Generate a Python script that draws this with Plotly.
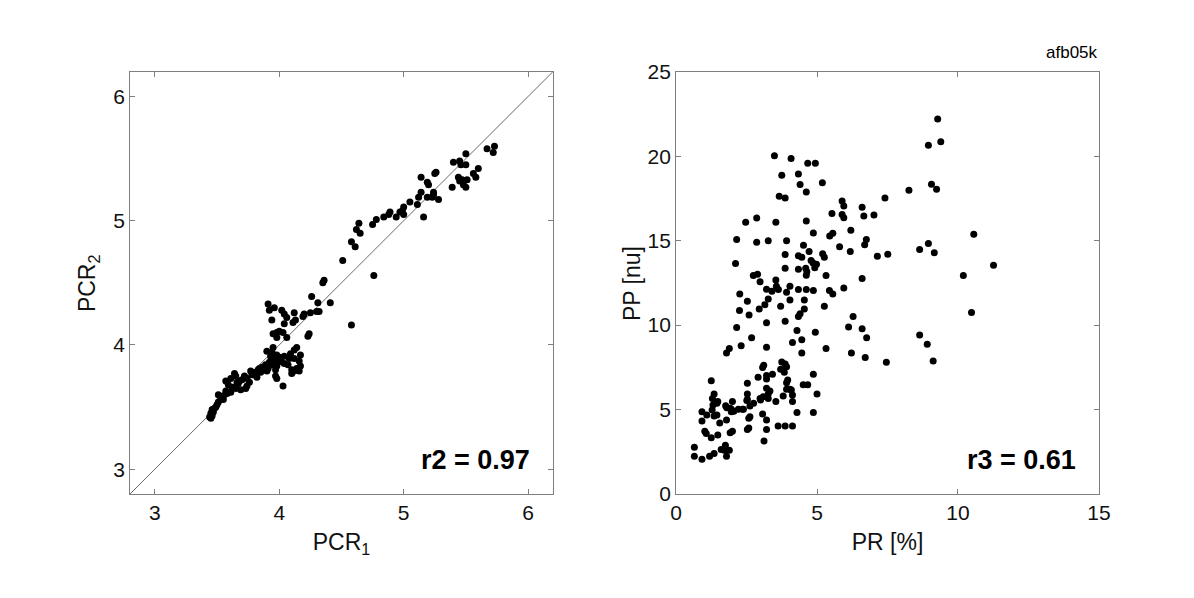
import plotly.graph_objects as go

# left panel: PCR1 vs PCR2
pcr1 = [5.73, 5.67, 5.72, 5.50, 5.40, 5.45, 5.46, 5.50, 5.60, 5.56, 5.58, 5.44, 5.47, 5.51, 5.45,
        5.48, 5.50, 5.39, 5.26, 5.25, 5.14, 5.19, 5.20, 5.14, 5.12, 5.24, 5.24, 5.19, 5.23, 5.28,
        5.11, 5.05, 5.00, 4.99, 4.97, 4.94, 5.00, 4.89, 4.88, 4.84, 5.16, 4.78, 4.75, 4.64, 4.62,
        4.65, 4.58, 4.61, 4.51, 4.76, 4.36, 4.35, 4.26, 4.31, 4.41, 4.30, 4.32, 4.25, 4.20, 4.19,
        4.12, 4.11, 4.13, 4.58, 4.24, 4.23, 3.91, 3.92, 3.96, 4.02, 4.04, 4.06, 3.94, 4.04, 4.00,
        3.98, 4.03, 3.95, 3.98, 4.06, 3.95, 4.14, 4.12, 4.09, 3.94, 3.96, 3.93, 3.98, 4.00, 3.96,
        4.04, 4.08, 4.12, 4.17, 4.16, 3.92, 3.89, 3.94, 3.86, 3.84, 3.90, 4.04, 3.98, 4.17, 4.14,
        4.12, 4.10, 4.16, 3.97, 3.98, 4.03, 3.77, 3.81, 3.78, 3.72, 3.74, 3.82, 3.64, 3.65, 3.61,
        3.68, 3.66, 3.57, 3.59, 3.63, 3.65, 3.74, 3.73, 3.69, 3.57, 3.61, 3.51, 3.53, 3.51, 3.55,
        3.50, 3.48, 3.46, 3.47, 3.45, 3.46, 3.45, 3.88, 3.85, 3.79, 3.99, 4.01, 3.93, 3.97, 3.87,
        3.80, 3.70, 3.62, 3.55, 3.49, 3.44, 3.90, 4.07, 4.10, 3.95, 3.91, 3.83, 3.76, 3.67, 3.58]
pcr2 = [5.60, 5.58, 5.55, 5.54, 5.47, 5.48, 5.45, 5.45, 5.42, 5.38, 5.35, 5.35, 5.33, 5.33, 5.32,
        5.29, 5.27, 5.27, 5.39, 5.38, 5.35, 5.31, 5.29, 5.23, 5.19, 5.23, 5.21, 5.19, 5.19, 5.17,
        5.13, 5.15, 5.11, 5.08, 5.07, 5.03, 5.05, 5.07, 5.05, 5.03, 5.03, 5.01, 4.97, 4.98, 4.93,
        4.90, 4.83, 4.79, 4.68, 4.56, 4.52, 4.50, 4.39, 4.34, 4.34, 4.27, 4.27, 4.26, 4.25, 4.23,
        4.26, 4.18, 4.20, 4.16, 4.09, 4.07, 4.33, 4.28, 4.30, 4.28, 4.25, 4.22, 4.20, 4.17, 4.11,
        4.10, 4.10, 4.09, 4.06, 4.06, 3.98, 3.98, 3.96, 3.93, 3.94, 3.92, 3.91, 3.92, 3.90, 3.87,
        3.91, 3.89, 3.89, 3.92, 3.87, 3.86, 3.84, 3.84, 3.82, 3.81, 3.79, 3.85, 3.83, 3.83, 3.81,
        3.79, 3.77, 3.79, 3.75, 3.73, 3.67, 3.79, 3.78, 3.76, 3.75, 3.73, 3.74, 3.77, 3.75, 3.73,
        3.71, 3.70, 3.71, 3.68, 3.66, 3.65, 3.67, 3.65, 3.64, 3.63, 3.62, 3.60, 3.57, 3.54, 3.56,
        3.52, 3.49, 3.48, 3.46, 3.45, 3.43, 3.41, 3.80, 3.78, 3.76, 3.86, 3.88, 3.84, 3.80, 3.82,
        3.77, 3.72, 3.66, 3.59, 3.50, 3.42, 3.95, 3.84, 3.80, 3.90, 3.81, 3.80, 3.70, 3.69, 3.61]

# right panel: PR vs PP
pr = [9.28, 8.95, 9.39, 9.06, 9.24, 8.26, 7.41, 10.56, 11.26, 10.19, 8.64, 8.95, 9.16, 10.48, 8.64,
      8.91, 9.12, 7.46, 7.51, 7.14, 7.02, 6.66, 6.60, 6.75, 6.69, 6.20, 6.18, 5.89, 5.95, 5.89,
      5.95, 5.53, 5.80, 5.45, 5.56, 6.60, 5.95, 6.28, 6.12, 6.60, 6.76, 6.22, 6.71, 5.19, 4.94,
      4.67, 4.08, 3.49, 3.75, 4.34, 4.40, 4.62, 3.66, 3.87, 4.62, 4.87, 3.54, 2.86, 2.47, 2.15,
      2.86, 3.27, 3.92, 2.11, 4.52, 4.34, 4.46, 4.72, 3.87, 5.20, 5.26, 4.79, 4.86, 4.98, 4.60,
      4.64, 4.62, 3.87, 2.74, 2.89, 2.98, 3.54, 3.56, 3.63, 2.26, 3.21, 3.92, 4.04, 4.34, 4.62,
      4.87, 5.32, 5.44, 5.56, 2.53, 3.27, 4.04, 4.55, 2.25, 2.59, 2.95, 3.15, 3.71, 4.55, 4.40,
      4.34, 5.26, 3.21, 3.87, 2.15, 4.29, 4.46, 4.94, 2.68, 2.31, 4.13, 3.21, 1.89, 1.79, 4.46,
      5.32, 3.11, 3.07, 3.71, 3.75, 3.87, 3.92, 3.84, 2.91, 3.21, 3.21, 3.42, 3.96, 3.92, 4.87,
      4.51, 4.67, 1.25, 2.53, 3.21, 3.33, 3.27, 3.92, 4.04, 4.09, 5.00, 2.53, 2.53, 2.98, 3.09,
      3.00, 3.27, 3.80, 4.13, 4.13, 3.54, 2.75, 2.62, 2.51, 1.35, 1.29, 1.48, 1.45, 1.31, 1.28,
      1.35, 1.45, 1.76, 1.80, 2.00, 1.96, 1.96, 1.92, 2.21, 2.36, 2.39, 0.92, 1.09, 0.92, 1.79,
      1.02, 1.07, 1.25, 1.48, 2.00, 1.92, 2.58, 2.62, 2.53, 2.58, 3.07, 3.21, 3.21, 3.62, 3.87,
      4.13, 4.29, 4.87, 3.12, 0.65, 0.65, 0.92, 1.19, 1.35, 1.60, 1.75, 1.71, 1.89, 1.79, 4.34,
      4.92, 3.40, 2.05, 1.55]
pp = [22.2, 20.65, 20.85, 18.34, 18.04, 17.98, 17.52, 15.37, 13.54, 12.93, 14.48, 14.83, 14.28, 10.75, 9.41,
      8.87, 7.88, 7.80, 14.20, 14.08, 16.51, 16.46, 16.97, 15.07, 14.75, 15.62, 14.36, 17.35, 17.05, 16.55,
      16.36, 16.61, 14.63, 15.27, 15.43, 12.75, 12.20, 10.51, 9.88, 9.78, 9.25, 8.34, 8.08, 18.42, 19.58,
      19.58, 19.86, 20.02, 18.87, 18.95, 18.32, 17.88, 17.62, 17.52, 16.16, 15.45, 16.08, 16.34, 16.08, 15.07,
      14.91, 14.99, 14.99, 13.64, 14.73, 14.10, 14.02, 14.36, 14.18, 14.22, 14.02, 13.82, 13.68, 13.60, 13.37,
      13.15, 12.95, 13.37, 12.93, 13.01, 12.57, 12.67, 12.30, 12.10, 11.84, 12.12, 11.94, 12.30, 12.10, 12.10,
      12.04, 12.93, 12.04, 11.84, 11.41, 11.54, 11.49, 11.49, 10.87, 10.59, 10.95, 11.21, 11.11, 10.95, 10.67,
      10.51, 11.11, 10.14, 10.22, 9.86, 9.68, 9.13, 9.58, 9.25, 8.77, 8.97, 8.69, 8.61, 8.34, 8.34,
      8.61, 7.62, 7.49, 7.39, 7.82, 7.70, 7.54, 7.21, 6.91, 7.01, 6.81, 7.09, 6.75, 6.59, 7.09,
      6.46, 6.46, 6.71, 6.55, 6.26, 6.10, 5.92, 6.20, 6.20, 6.16, 5.92, 5.92, 5.60, 5.66, 5.76,
      5.56, 5.66, 5.80, 5.86, 5.47, 5.47, 5.37, 5.21, 5.53, 5.92, 5.66, 5.47, 5.37, 5.27, 4.97,
      4.61, 4.67, 5.23, 5.11, 5.47, 5.01, 4.87, 5.07, 5.01, 5.01, 5.01, 4.87, 4.67, 4.32, 4.38,
      3.72, 3.58, 3.33, 3.49, 3.72, 3.62, 4.48, 4.57, 3.82, 3.90, 4.73, 4.38, 3.82, 4.02, 4.02,
      4.02, 4.83, 4.83, 3.13, 2.77, 2.24, 2.06, 2.24, 2.40, 2.63, 2.89, 2.59, 2.59, 2.24, 13.30,
      13.40, 12.00, 4.90, 4.20]

diag = [2.8, 6.2]

FONT = "Liberation Sans, Arial, sans-serif"

fig = go.Figure()

fig.add_trace(go.Scatter(x=diag, y=diag, mode="lines", line=dict(color="#444444", width=0.8),
                         xaxis="x", yaxis="y", showlegend=False, hoverinfo="skip"))
fig.add_trace(go.Scatter(x=pcr1, y=pcr2, mode="markers", marker=dict(color="black", size=7),
                         xaxis="x", yaxis="y", showlegend=False))
fig.add_trace(go.Scatter(x=pr, y=pp, mode="markers", marker=dict(color="black", size=7),
                         xaxis="x2", yaxis="y2", showlegend=False))

axis_common = dict(showgrid=False, zeroline=False, showline=True, linecolor="#7f7f7f", linewidth=1,
                   mirror="all", ticks="inside", ticklen=5, tickcolor="#7f7f7f", automargin=False,
                   tickfont=dict(size=21, color="#111111", family=FONT))
title_font = dict(size=23, color="#111111", family=FONT)

# the page body adds 8px, so domains are shifted to compensate
ydom = [0.1873, 0.8935]

fig.update_layout(
    width=1194, height=598,
    margin=dict(l=0, r=0, t=0, b=0),
    paper_bgcolor="white", plot_bgcolor="white",
    font=dict(family=FONT),
    xaxis=dict(domain=[0.1022, 0.4564], range=[2.8, 6.2], tickvals=[3, 4, 5, 6],
               title=dict(text="PCR<sub>1</sub>", font=title_font, standoff=10), anchor="y", **axis_common),
    yaxis=dict(domain=ydom, range=[2.8, 6.2], tickvals=[3, 4, 5, 6], anchor="x", **axis_common),
    xaxis2=dict(domain=[0.5595, 0.9137], range=[0, 15], tickvals=[0, 5, 10, 15],
                title=dict(text="PR [%]", font=title_font, standoff=10), anchor="y2", **axis_common),
    yaxis2=dict(domain=ydom, range=[0, 25], tickvals=[0, 5, 10, 15, 20, 25], anchor="x2", **axis_common),
)

# y axis titles
fig.add_annotation(text="PCR<sub>2</sub>", xref="paper", yref="paper", x=0.0670, y=0.540,
                   xanchor="center", yanchor="middle", textangle=-90, showarrow=False, font=title_font)
fig.add_annotation(text="PP [nu]", xref="paper", yref="paper", x=0.5226, y=0.540,
                   xanchor="center", yanchor="middle", textangle=-90, showarrow=False, font=title_font)

fig.add_annotation(text="<b>r2 = 0.97</b>", xref="x domain", yref="y domain", x=0.95, y=0.04,
                   xanchor="right", yanchor="bottom", showarrow=False,
                   font=dict(size=27, color="black", family=FONT))
fig.add_annotation(text="<b>r3 = 0.61</b>", xref="x2 domain", yref="y2 domain", x=0.95, y=0.04,
                   xanchor="right", yanchor="bottom", showarrow=False,
                   font=dict(size=27, color="black", family=FONT))
fig.add_annotation(text="afb05k", xref="paper", yref="paper", x=0.9146, y=0.926,
                   xanchor="right", yanchor="middle", showarrow=False,
                   font=dict(size=17, color="black", family=FONT))

fig.write_html("out.html")
